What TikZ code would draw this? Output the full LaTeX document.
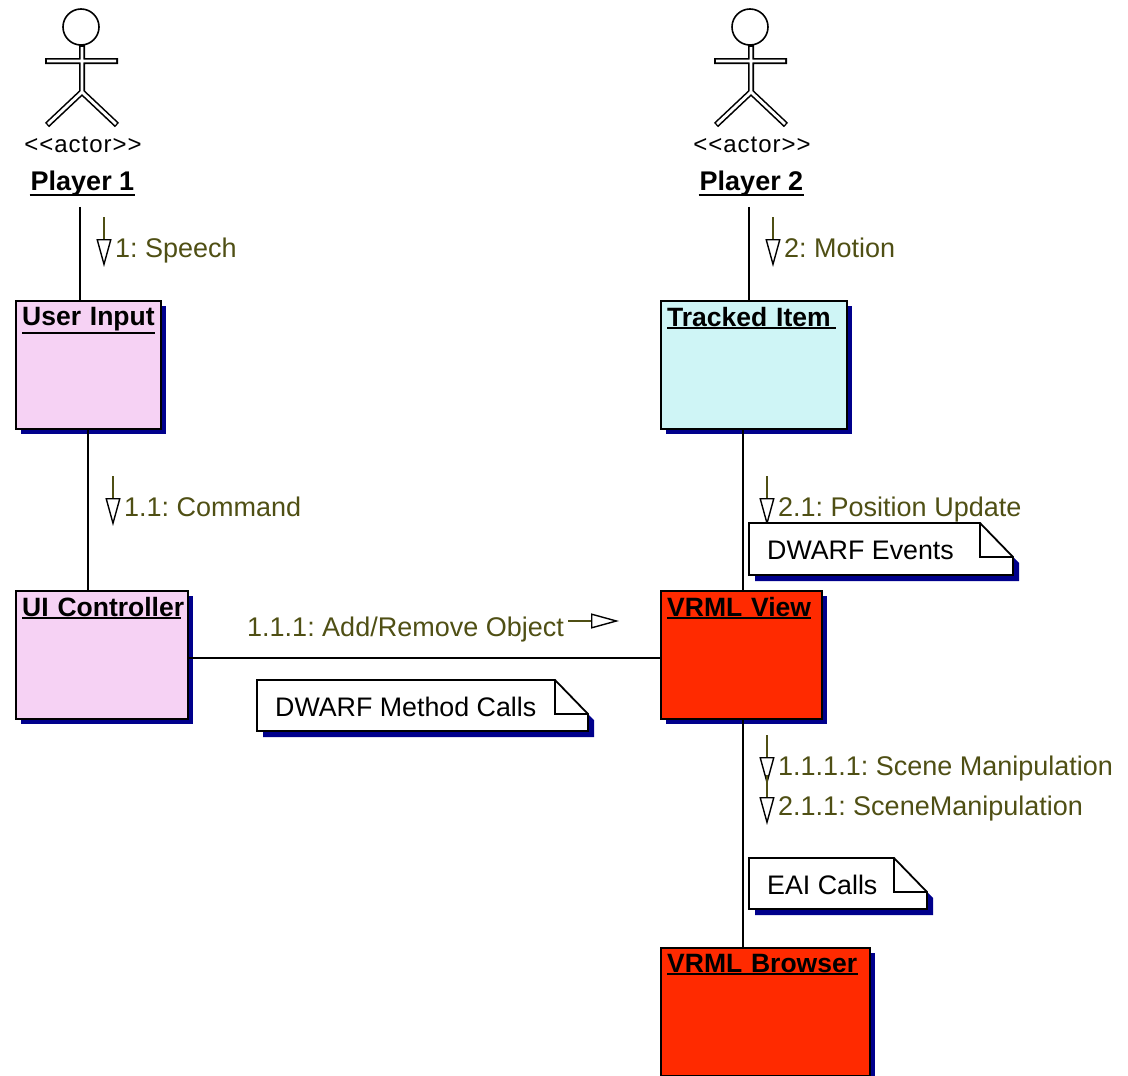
\documentclass[tikz,border=0pt]{standalone}
\usepackage{fontspec}
\usepackage{amsmath}
\setmainfont{Liberation Sans}
\usetikzlibrary{arrows.meta,shadows}

\definecolor{objpink}{HTML}{F6D2F4}
\definecolor{objcyan}{HTML}{CFF5F6}
\definecolor{objred}{HTML}{FF2A00}
\definecolor{shadownavy}{HTML}{00008C}
\definecolor{msgolive}{HTML}{4F4F14}

\tikzset{
    umlobj/.style={draw, line width=1.8pt, anchor=north west, inner sep=0pt,
        general shadow={shadow xshift=5pt, shadow yshift=-5pt, fill=shadownavy}},
    objtitle/.style={font=\frenchspacing\fontsize{26.5}{30}\selectfont\bfseries, anchor=north west, inner xsep=0pt, inner ysep=1pt},
    link/.style={line width=1.9pt},
    msglabel/.style={font=\frenchspacing\fontsize{27}{30}\selectfont, text=msgolive, anchor=west, inner sep=0pt, text height=19pt, text depth=0pt},
    msgarrow/.style={line width=1.4pt, draw=msgolive,
        -{Triangle[length=28pt, width=15pt, color=black, fill=white, line width=1.4pt]}},
    notetext/.style={font=\fontsize{26.8}{30}\selectfont, anchor=west, inner sep=0pt}
}

% name, top left corner, width, height, text
\newcommand{\umlnote}[5]{
    \begin{scope}[shift={(#2)}]
        \fill[shadownavy] (6,#4) -- (6,#4+6) -- (#3+6,#4+6) -- (#3+6,40) -- (#3,34) -- cycle;
        \filldraw[fill=white, line width=1.8pt] (0,0) -- (#3-33,0) -- (#3,34) -- (#3,#4) -- (0,#4) -- cycle;
        \draw[line width=1.8pt] (#3-33,0) -- (#3-33,34) -- (#3,34);
        \node[notetext] (#1) at (18,27) {#5};
    \end{scope}
}

\begin{document}
\begin{tikzpicture}[x=1pt, y=-1pt]
    \useasboundingbox (0,0) rectangle (1128,1076);

    % actors
    \foreach \n/\t/\x in {playerone/Player 1/0, playertwo/Player 2/669}{
        \begin{scope}[shift={(\x,0)}]
            \draw[line width=6pt, line join=round] (82,45) -- (82,92) -- (47,125) (82,92) -- (117,125) (45,61) -- (118,61);
            \draw[white, line width=2.8pt, line join=round] (82,47) -- (82,92) -- (48,124) (82,92) -- (116,124) (47,61) -- (116,61);
            \node[draw, circle, fill=white, line width=1.6pt, minimum size=36pt, inner sep=0pt] (\n-head) at (81,27) {};
            \node[font=\fontsize{24}{26}\selectfont\addfontfeature{LetterSpace=4}] (\n-type) at (83,145) {<{}<actor>{}>};
            \node[objtitle, font=\fontsize{27}{30}\selectfont\bfseries, anchor=center] (\n) at (82.5,183.5) {\t};
            \draw[link] ([xshift=-1pt,yshift=2.5pt]\n.south west) -- ([xshift=1pt,yshift=2.5pt]\n.south east);
        \end{scope}
    }

    % objects
    \node[umlobj, fill=objpink, minimum width=145pt, minimum height=128pt] (userinput) at (15,300) {};
    \node[umlobj, fill=objcyan, minimum width=186pt, minimum height=128pt] (trackeditem) at (660,300) {};
    \node[umlobj, fill=objpink, minimum width=172pt, minimum height=128pt] (uicontroller) at (15,590) {};
    \node[umlobj, fill=objred, minimum width=161pt, minimum height=128pt] (vrmlview) at (660,590) {};
    \node[umlobj, fill=objred, minimum width=209pt, minimum height=128pt] (vrmlbrowser) at (660,947) {};

    \foreach \n/\t/\w in {userinput/User Input/133pt, trackeditem/Tracked Item/169pt, uicontroller/UI Controller/159pt,
        vrmlview/VRML View/144pt, vrmlbrowser/VRML Browser/191pt}{
        \node[objtitle, text width=\w] (\n-title) at ([shift={(7,6.5)}]\n.north west) {\hbox{\t}};
        \draw[link] (\n-title.south west) -- (\n-title.south east);
    }

    % links
    \draw[link] ([xshift=-2.5pt,yshift=-9.5pt]playerone.south) -- ([xshift=-2.5pt]playerone.south |- userinput.north);
    \draw[link] ([xshift=-2.5pt,yshift=-9.5pt]playertwo.south) -- ([xshift=-2.5pt]playertwo.south |- trackeditem.north);
    \draw[link] (userinput.south) -- (userinput.south |- uicontroller.north);
    \draw[link] ([xshift=-11pt]trackeditem.south) -- ([xshift=-11pt]trackeditem.south |- vrmlview.north);
    \draw[link] ([xshift=2pt]vrmlview.south) -- ([xshift=2pt]vrmlview.south |- vrmlbrowser.north);
    \draw[link] ([yshift=-3pt]uicontroller.east) -- ([yshift=-3pt]uicontroller.east -| vrmlview.west);

    % messages
    \node[msglabel] (speech) at (115,248) {1: Speech};
    \node[msglabel] (command) at (124,507) {1.1: Command};
    \node[msglabel] (motion) at (784,248) {2: Motion};
    \node[msglabel] (position) at (778,507) {2.1: Position Update};
    \node[msglabel] (addremove) at (247,627) {1.1.1: Add/Remove Object};
    \node[msglabel] (scene) at (778,766) {1.1.1.1: Scene Manipulation};
    \node[msglabel] (scenetwo) at (778,806) {2.1.1: SceneManipulation};

    \foreach \n in {speech, command, motion, position, scene, scenetwo}
        \draw[msgarrow] ([shift={(-11,-31)}]\n.west) -- ++(0,50);
    \draw[msgarrow] ([shift={(4,-6)}]addremove.east) -- ++(51,0);

    % notes
    \umlnote{eventsnote}{749,523}{264}{52}{DWARF Events}
    \umlnote{callsnote}{257,680}{331}{51}{DWARF Method Calls}
    \umlnote{eainote}{749,858}{178}{51}{EAI Calls}
\end{tikzpicture}
\end{document}
